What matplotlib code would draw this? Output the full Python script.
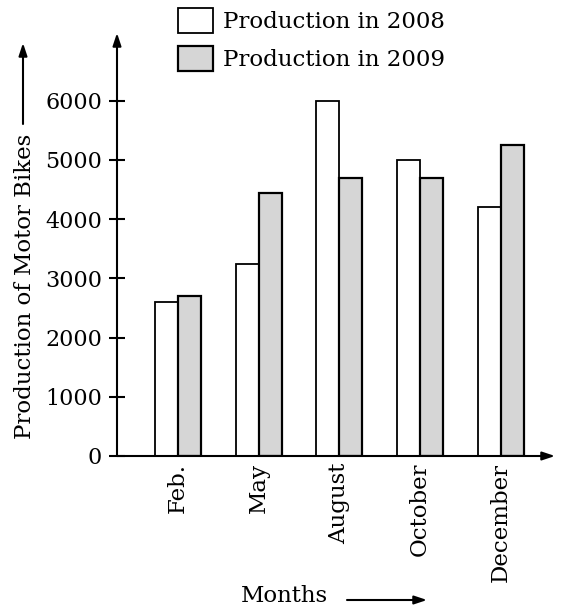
import numpy as np
import matplotlib.pyplot as plt

# values
months = ["Feb.", "May", "August", "October", "December"]
prod_2008 = [2600, 3250, 6000, 5000, 4200]
prod_2009 = [2700, 4450, 4700, 4700, 5250]
yticks = [0, 1000, 2000, 3000, 4000, 5000, 6000]

plt.rcParams["font.family"] = ["DejaVu Serif"]
FS = 16.5

W, H = 562, 609
fig = plt.figure(figsize=(W / 100, H / 100), dpi=100)
ax = fig.add_axes([117 / W, 1 - 456 / H, (555 - 117) / W, (456 - 33) / H])

x = np.arange(len(months))
w = 0.285
b1 = ax.bar(x - w / 2, prod_2008, w, color="white", edgecolor="black",
            linewidth=1.3, label="Production in 2008")
b2 = ax.bar(x + w / 2, prod_2009, w, color="#d6d6d6", edgecolor="black",
            linewidth=1.6, label="Production in 2009")

ax.set_xlim(-0.755, 4.669)
ax.set_ylim(0, 7145)
for s in ax.spines.values():
    s.set_visible(False)

arrow = dict(arrowstyle="-|>,head_length=0.75,head_width=0.25", lw=1.5,
             color="black", shrinkA=0, shrinkB=0)
ax.annotate("", xy=(1, 0), xytext=(0, 0), xycoords="axes fraction",
            arrowprops=arrow)
ax.annotate("", xy=(0, 1), xytext=(0, 0), xycoords="axes fraction",
            arrowprops=arrow)

ax.set_yticks(yticks)
ax.tick_params(axis="y", direction="inout", length=11.5, width=1.5,
               labelsize=16, pad=5)
ax.set_xticks(x)
ax.set_xticklabels(months, rotation=90, fontsize=FS, va="top", ha="center")
ax.tick_params(axis="x", length=0, pad=5)

fig.text(25 / W, 1 - 286 / H, "Production of Motor Bikes", rotation=90,
         ha="center", va="center", fontsize=FS)
fig.add_artist(plt.Annotation("", xy=(23 / W, 1 - 43 / H), xytext=(23 / W, 1 - 124 / H),
                              xycoords="figure fraction", arrowprops=arrow))

fig.text(284 / W, 1 - 596 / H, "Months", ha="center", va="center", fontsize=FS)
fig.add_artist(plt.Annotation("", xy=(427 / W, 1 - 600 / H), xytext=(347 / W, 1 - 600 / H),
                              xycoords="figure fraction", arrowprops=arrow))

fs_px = FS / 72 * 100
fig.legend(handles=[b1, b2], loc="upper left",
           bbox_to_anchor=(178 / W, 1 - 8 / H), frameon=False, fontsize=FS,
           borderpad=0, borderaxespad=0, handlelength=35 / fs_px,
           handleheight=30 / fs_px, handletextpad=10 / fs_px,
           labelspacing=13 / fs_px)

fig.savefig("out.png", dpi=100)
